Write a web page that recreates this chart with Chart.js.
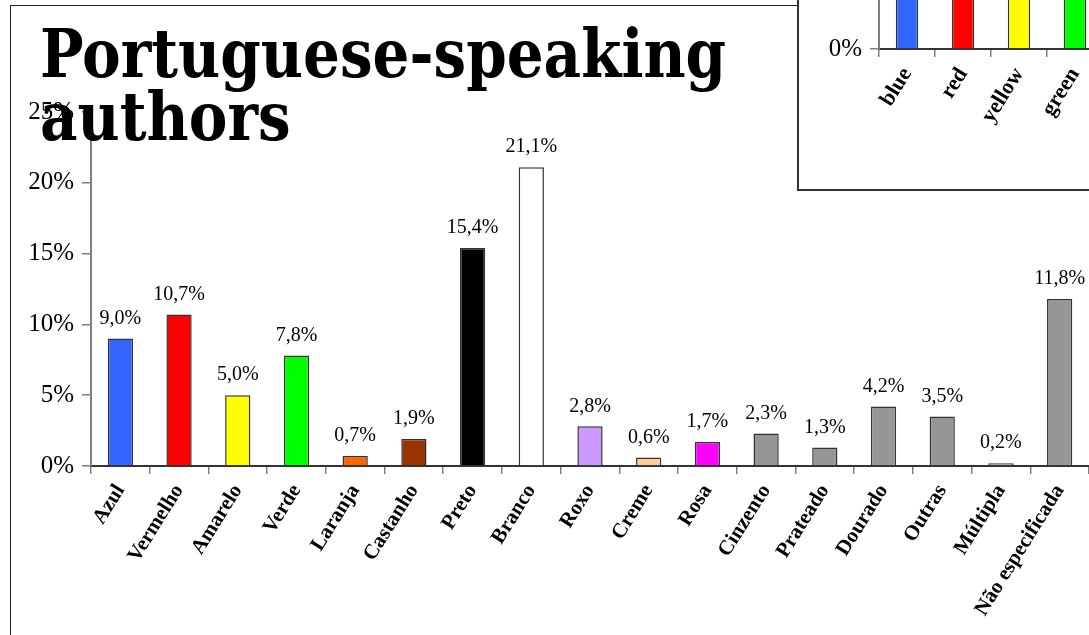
<!DOCTYPE html>
<html>
<head>
<meta charset="utf-8">
<script src="https://cdn.jsdelivr.net/npm/chart.js@4"></script>
<style>
  html, body { margin: 0; padding: 0; width: 1089px; height: 635px; overflow: hidden; background: #fff; }
  #frame { position: absolute; left: 10px; top: 5px; width: 1200px; height: 800px; border-left: 1.5px solid #222; border-top: 1.5px solid #222; box-sizing: border-box; }
  #main { position: absolute; left: 0; top: 0; }
  #insetBox { position: absolute; left: 797px; top: -260px; width: 400px; height: 451px; border-left: 2px solid #333; border-bottom: 2px solid #333; background: #fff; box-sizing: border-box; }
  #inset { position: absolute; left: 0; top: 0; }
</style>
</head>
<body>
<div id="frame"></div>
<canvas id="main" width="1089" height="635"></canvas>
<div id="insetBox"><canvas id="inset" width="398" height="449"></canvas></div>
<script>
// ---- data ----
const titleLines = ['Portuguese-speaking', 'authors'];
const categories = ['Azul', 'Vermelho', 'Amarelo', 'Verde', 'Laranja', 'Castanho', 'Preto', 'Branco', 'Roxo', 'Creme', 'Rosa', 'Cinzento', 'Prateado', 'Dourado', 'Outras', 'Múltipla', 'Não especificada'];
const shares = [9.0, 10.7, 5.0, 7.8, 0.7, 1.9, 15.4, 21.1, 2.8, 0.6, 1.7, 2.3, 1.3, 4.2, 3.5, 0.2, 11.8];
const barColors = ['#3366FF', '#FF0000', '#FFFF00', '#00FF00', '#FF6600', '#993300', '#000000', '#FFFFFF', '#CC99FF', '#FFCC99', '#FF00FF', '#969696', '#969696', '#969696', '#969696', '#969696', '#969696'];
const yMin = 0, yMax = 25, yStep = 5;

const insetCategories = ['blue', 'red', 'yellow', 'green'];
const insetShares = [13, 12, 7, 9];
const insetColors = ['#3366FF', '#FF0000', '#FFFF00', '#00FF00'];
const insetMax = 20;

const fmtPct = v => v.toFixed(1).replace('.', ',') + '%';

const valueLabels = {
  id: 'valueLabels',
  afterDatasetsDraw(chart) {
    const ctx = chart.ctx;
    const meta = chart.getDatasetMeta(0);
    ctx.save();
    ctx.font = '20px "Liberation Serif"';
    ctx.fillStyle = '#000';
    ctx.textAlign = 'center';
    ctx.textBaseline = 'middle';
    meta.data.forEach((bar, i) => {
      ctx.fillText(fmtPct(chart.data.datasets[0].data[i]), bar.x, bar.y - 20);
    });
    ctx.restore();
  }
};

const bigTitle = {
  id: 'bigTitle',
  afterDraw(chart) {
    const ctx = chart.ctx;
    ctx.save();
    ctx.font = 'bold 58px "DejaVu Serif"';
    ctx.fillStyle = '#000';
    ctx.textAlign = 'left';
    ctx.textBaseline = 'alphabetic';
    [[titleLines[0], 77], [titleLines[1], 140]].forEach(([t, base]) => {
      ctx.save();
      ctx.translate(40, base);
      ctx.scale(1, 1.15);
      ctx.fillText(t, 0, 0);
      ctx.restore();
    });
    ctx.restore();
  }
};

new Chart(document.getElementById('main'), {
  type: 'bar',
  data: {
    labels: categories,
    datasets: [{
      data: shares,
      backgroundColor: barColors,
      borderColor: '#333',
      borderWidth: 1.5,
      barPercentage: 0.43,
      categoryPercentage: 1.0
    }]
  },
  options: {
    responsive: false,
    animation: false,
    layout: { padding: { left: 0, right: 0, top: 112, bottom: 0 } },
    plugins: { legend: { display: false }, title: { display: false }, tooltip: { enabled: false } },
    scales: {
      x: {
        afterFit(s) { s.height = 169; },
        grid: { display: true, drawOnChartArea: false, drawTicks: true, tickLength: 8, color: '#808080', lineWidth: 1.5, offset: true },
        border: { display: true, color: '#333', width: 2 },
        ticks: { autoSkip: false, maxRotation: 58, minRotation: 58, padding: 6, color: '#000', font: { family: '"Liberation Serif"', size: 21, weight: 'bold' } }
      },
      y: {
        min: yMin, max: yMax,
        afterFit(s) { s.width = 91; },
        grid: { drawOnChartArea: false, drawTicks: true, tickLength: 9, color: '#808080', lineWidth: 1.5 },
        border: { display: true, color: '#808080', width: 2 },
        ticks: { stepSize: yStep, padding: 8, color: '#000', font: { family: '"Liberation Serif"', size: 25 }, callback: v => v + '%' }
      }
    }
  },
  plugins: [valueLabels, bigTitle]
});

new Chart(document.getElementById('inset'), {
  type: 'bar',
  data: {
    labels: insetCategories,
    datasets: [{
      data: insetShares,
      backgroundColor: insetColors,
      borderColor: '#333',
      borderWidth: 1.5,
      barPercentage: 0.40,
      categoryPercentage: 1.0
    }]
  },
  options: {
    responsive: false,
    animation: false,
    layout: { padding: { left: 0, right: 94, top: 20, bottom: 0 } },
    plugins: { legend: { display: false }, title: { display: false }, tooltip: { enabled: false } },
    scales: {
      x: {
        afterFit(s) { s.height = 140; },
        grid: { display: true, drawOnChartArea: false, drawTicks: true, tickLength: 8, color: '#808080', lineWidth: 1.5, offset: true },
        border: { display: true, color: '#333', width: 2 },
        ticks: { autoSkip: false, maxRotation: 58, minRotation: 58, padding: 6, color: '#000', font: { family: '"Liberation Serif"', size: 22, weight: 'bold' } }
      },
      y: {
        min: 0, max: insetMax,
        afterFit(s) { s.width = 80; },
        grid: { drawOnChartArea: false, drawTicks: true, tickLength: 9, color: '#808080', lineWidth: 1.5 },
        border: { display: true, color: '#808080', width: 2 },
        ticks: { stepSize: 5, padding: 8, color: '#000', font: { family: '"Liberation Serif"', size: 25 }, callback: v => v + '%' }
      }
    }
  }
});
</script>
</body>
</html>
